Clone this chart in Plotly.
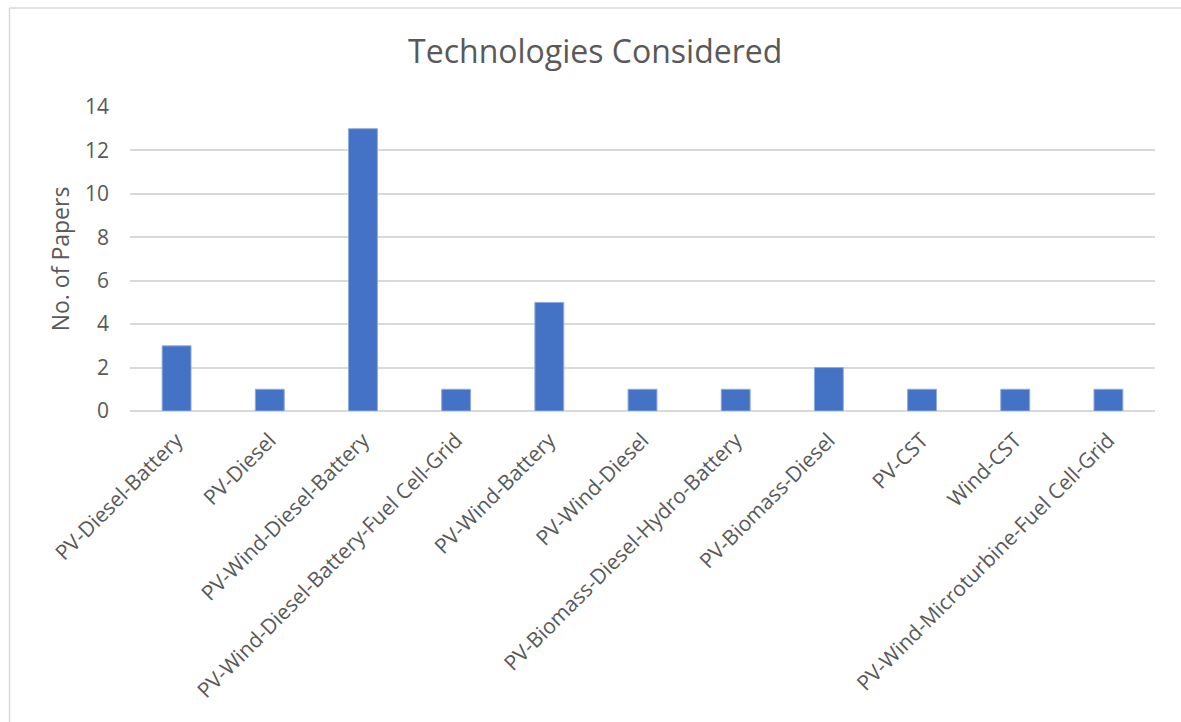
import plotly.graph_objects as go

# Hybrid system configurations and how many papers studied each
technologies = [
    "PV-Diesel-Battery",
    "PV-Diesel",
    "PV-Wind-Diesel-Battery",
    "PV-Wind-Diesel-Battery-Fuel Cell-Grid",
    "PV-Wind-Battery",
    "PV-Wind-Diesel",
    "PV-Biomass-Diesel-Hydro-Battery",
    "PV-Biomass-Diesel",
    "PV-CST",
    "Wind-CST",
    "PV-Wind-Microturbine-Fuel Cell-Grid",
]
paper_counts = [3, 1, 13, 1, 5, 1, 1, 2, 1, 1, 1]
y_ticks = [0, 2, 4, 6, 8, 10, 12, 14]

FONT = "Open Sans, Segoe UI, DejaVu Sans, sans-serif"
TEXT_GREY = "#595959"
GRID_GREY = "#d9d9d9"

W, H = 1181, 722
L, R, T, B = 130, 26, 107, 311
plot_w = W - L - R
plot_h = H - T - B


def px_to_paper_x(px):
    return (px - L) / plot_w


def px_to_paper_y(py):
    return (H - B - py) / plot_h


fig = go.Figure(
    go.Bar(
        x=technologies,
        y=paper_counts,
        marker=dict(color="#4472C4", line=dict(color="#8faadc", width=1)),
        hoverinfo="x+y",
    )
)

fig.update_layout(
    width=W,
    height=H,
    margin=dict(l=L, r=R, t=T, b=B),
    paper_bgcolor="white",
    plot_bgcolor="white",
    bargap=0.69,
    showlegend=False,
    font=dict(family=FONT, color=TEXT_GREY),
    title=dict(
        text="Technologies Considered",
        font=dict(family=FONT, size=32, color=TEXT_GREY),
        x=0.504,
        xref="container",
        xanchor="center",
        y=1 - 52 / H,
        yref="container",
        yanchor="middle",
    ),
    xaxis=dict(
        tickangle=-45,
        tickfont=dict(family=FONT, size=21, color=TEXT_GREY),
        showgrid=False,
        showline=False,
        ticks="",
        ticklabelstandoff=12,
        automargin=False,
    ),
    yaxis=dict(
        range=[0, 14],
        tickvals=y_ticks,
        tickfont=dict(family=FONT, size=21, color=TEXT_GREY),
        showgrid=True,
        gridcolor=GRID_GREY,
        gridwidth=1.5,
        zeroline=True,
        zerolinecolor=GRID_GREY,
        zerolinewidth=1.5,
        showline=False,
        ticks="",
        ticklabelstandoff=20,
        title=dict(
            text="No. of Papers",
            font=dict(family=FONT, size=23, color=TEXT_GREY),
            standoff=8,
        ),
        automargin=False,
    ),
    shapes=[
        # chart frame: left and top edges
        dict(
            type="line", xref="paper", yref="paper",
            x0=px_to_paper_x(9.5), x1=px_to_paper_x(9.5),
            y0=px_to_paper_y(8), y1=px_to_paper_y(H + 10),
            line=dict(color=GRID_GREY, width=1.5),
        ),
        dict(
            type="line", xref="paper", yref="paper",
            x0=px_to_paper_x(9.5), x1=px_to_paper_x(W + 10),
            y0=px_to_paper_y(8), y1=px_to_paper_y(8),
            line=dict(color=GRID_GREY, width=1.5),
        ),
    ],
)

fig.write_html("out.html")
